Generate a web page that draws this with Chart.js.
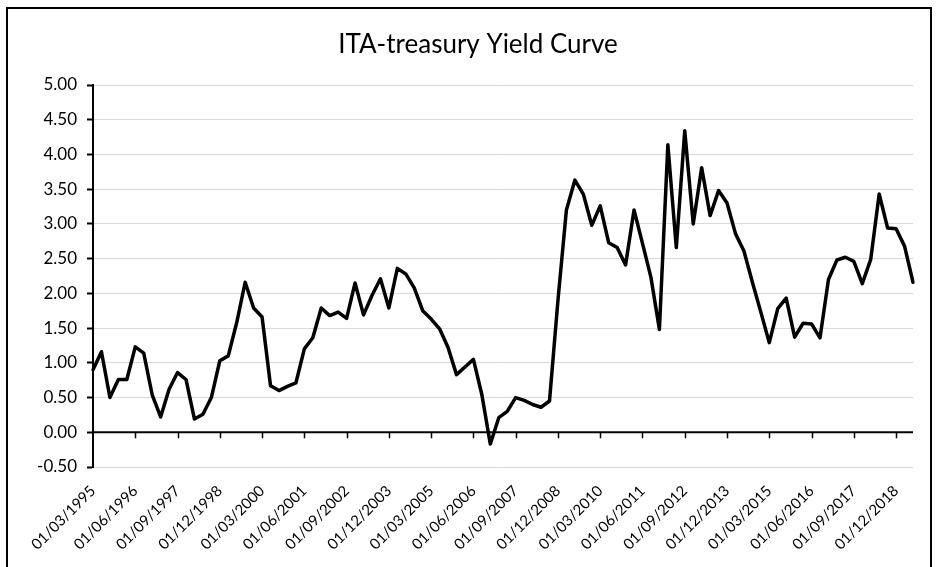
<!DOCTYPE html>
<html><head><meta charset="utf-8">
<script src="https://cdn.jsdelivr.net/npm/chart.js@4"></script>
<style>
html,body{margin:0;padding:0;background:#fff;}
#wrap{position:relative;width:939px;height:567px;overflow:hidden;background:#fff;}
#frame{position:absolute;left:6px;top:7px;width:922px;height:600px;border:2px solid #000;pointer-events:none;}
canvas{position:absolute;left:0;top:0;}
</style></head><body>
<div id="wrap"><canvas id="c" width="939" height="567"></canvas><div id="frame"></div></div>
<script>
const categories = [
 '01/03/1995','01/06/1995','01/09/1995','01/12/1995',
 '01/03/1996','01/06/1996','01/09/1996','01/12/1996',
 '01/03/1997','01/06/1997','01/09/1997','01/12/1997',
 '01/03/1998','01/06/1998','01/09/1998','01/12/1998',
 '01/03/1999','01/06/1999','01/09/1999','01/12/1999',
 '01/03/2000','01/06/2000','01/09/2000','01/12/2000',
 '01/03/2001','01/06/2001','01/09/2001','01/12/2001',
 '01/03/2002','01/06/2002','01/09/2002','01/12/2002',
 '01/03/2003','01/06/2003','01/09/2003','01/12/2003',
 '01/03/2004','01/06/2004','01/09/2004','01/12/2004',
 '01/03/2005','01/06/2005','01/09/2005','01/12/2005',
 '01/03/2006','01/06/2006','01/09/2006','01/12/2006',
 '01/03/2007','01/06/2007','01/09/2007','01/12/2007',
 '01/03/2008','01/06/2008','01/09/2008','01/12/2008',
 '01/03/2009','01/06/2009','01/09/2009','01/12/2009',
 '01/03/2010','01/06/2010','01/09/2010','01/12/2010',
 '01/03/2011','01/06/2011','01/09/2011','01/12/2011',
 '01/03/2012','01/06/2012','01/09/2012','01/12/2012',
 '01/03/2013','01/06/2013','01/09/2013','01/12/2013',
 '01/03/2014','01/06/2014','01/09/2014','01/12/2014',
 '01/03/2015','01/06/2015','01/09/2015','01/12/2015',
 '01/03/2016','01/06/2016','01/09/2016','01/12/2016',
 '01/03/2017','01/06/2017','01/09/2017','01/12/2017',
 '01/03/2018','01/06/2018','01/09/2018','01/12/2018',
 '01/03/2019','01/06/2019'
];
const yieldSpread = [
 0.90,1.16,0.50,0.76, 0.76,1.23,1.14,0.54, 0.22,0.62,0.86,0.76, 0.19,0.26,0.50,1.03,
 1.10,1.58,2.16,1.79, 1.66,0.67,0.60,0.66, 0.71,1.20,1.36,1.79, 1.68,1.73,1.64,2.15,
 1.69,1.97,2.21,1.79, 2.36,2.28,2.08,1.75, 1.63,1.49,1.22,0.83, 0.94,1.05,0.54,-0.17,
 0.21,0.30,0.50,0.46, 0.40,0.36,0.45,1.90, 3.20,3.63,3.43,2.98, 3.26,2.73,2.66,2.41,
 3.20,2.72,2.23,1.48, 4.14,2.66,4.34,3.00, 3.81,3.12,3.48,3.30, 2.86,2.61,2.16,1.73,
 1.29,1.78,1.93,1.37, 1.57,1.56,1.36,2.20, 2.48,2.52,2.46,2.14, 2.49,3.43,2.94,2.93,
 2.68,2.16
];
const yMin = -0.5, yMax = 5.0, yStep = 0.5;
const labelEvery = 5;
const chartTitle = 'ITA-treasury Yield Curve';

const titleText = {
  id: 'titleText',
  afterDraw(chart) {
    const {ctx} = chart;
    ctx.save();
    ctx.fillStyle = '#000';
    ctx.font = '26px Lato';
    ctx.textAlign = 'center';
    ctx.textBaseline = 'middle';
    ctx.fillText(chartTitle, 478, 45);
    ctx.restore();
  }
};

const axisMarks = {
  id: 'axisMarks',
  beforeDatasetsDraw(chart) {
    const {ctx} = chart;
    const xs = chart.scales.x, ys = chart.scales.y;
    const y0 = ys.getPixelForValue(0);
    ctx.save();
    ctx.strokeStyle = '#000';
    ctx.lineWidth = 2;
    ctx.beginPath();
    ctx.moveTo(chart.chartArea.left, y0);
    ctx.lineTo(chart.chartArea.right, y0);
    ctx.stroke();
    ctx.lineWidth = 1.5;
    for (let i = labelEvery; i < categories.length; i += labelEvery) {
      const x = Math.round(xs.getPixelForValue(i)) + 0.5;
      ctx.beginPath();
      ctx.moveTo(x, y0);
      ctx.lineTo(x, y0 + 6);
      ctx.stroke();
    }
    ctx.restore();
  }
};

new Chart(document.getElementById('c'), {
  type: 'line',
  data: {
    labels: categories,
    datasets: [{
      data: yieldSpread,
      borderColor: '#000',
      borderWidth: 3.5,
      pointRadius: 0,
      tension: 0,
      borderJoinStyle: 'round',
      borderCapStyle: 'round',
      fill: false
    }]
  },
  options: {
    responsive: false,
    animation: false,
    layout: {padding: {left: 8, right: 26, top: 85, bottom: 0}},
    plugins: {
      legend: {display: false},
      tooltip: {enabled: false},
      title: {display: false}
    },
    scales: {
      x: {
        type: 'category',
        offset: false,
        grid: {display: false, drawTicks: false},
        border: {display: false},
        ticks: {
          autoSkip: false,
          minRotation: 45,
          maxRotation: 45,
          padding: 15,
          color: '#000',
          font: {family: 'Lato', size: 15},
          callback: (v, i) => (i % labelEvery === 0 ? categories[i] : null)
        },
        afterFit: s => { s.height = 100; }
      },
      y: {
        min: yMin,
        max: yMax,
        grid: {
          color: '#d9d9d9',
          lineWidth: 1,
          drawTicks: true,
          tickLength: 6,
          tickColor: '#000',
          tickWidth: 2
        },
        border: {display: true, color: '#000', width: 2},
        ticks: {
          stepSize: yStep,
          padding: 10,
          color: '#000',
          font: {family: 'Lato', size: 17},
          callback: v => Number(v).toFixed(2)
        },
        afterFit: s => { s.width = 85; }
      }
    }
  },
  plugins: [axisMarks, titleText]
});
</script>
</body></html>
